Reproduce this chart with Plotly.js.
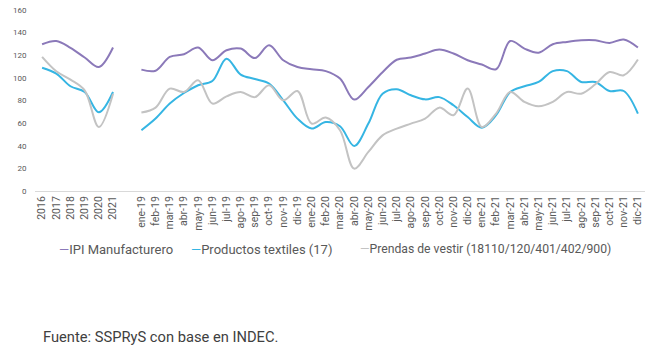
<!DOCTYPE html>
<html>
<head>
<meta charset="utf-8">
<script src="https://cdn.plot.ly/plotly-3.0.1.min.js"></script>
<style>html,body{margin:0;padding:0;background:#fff;}#chart{width:656px;height:352px;}</style>
</head>
<body>
<div id="chart"></div>
<script>
var categories = ["2016","2017","2018","2019","2020","2021"," ",
 "ene-19","feb-19","mar-19","abr-19","may-19","jun-19","jul-19","ago-19","sep-19","oct-19","nov-19","dic-19",
 "ene-20","feb-20","mar-20","abr-20","may-20","jun-20","jul-20","ago-20","sep-20","oct-20","nov-20","dic-20",
 "ene-21","feb-21","mar-21","abr-21","may-21","jun-21","jul-21","ago-21","sep-21","oct-21","nov-21","dic-21"];

var ipi = [129.7,132.6,126.5,118,109.6,126.8,null,
 107.3,106.3,118.5,120.9,126.8,115.6,124.4,125.9,117.5,128.8,115.6,109.6,
 107.6,106,99.4,80.8,92,105,116,118,121.5,125,121.5,115.6,
 111.8,107.6,132.6,125.9,122.3,129.7,131.8,133.2,133.2,130.9,133.9,126.8];

var textiles = [109,103.8,92.6,87.5,69.6,87.5,null,
 53.7,64,77.3,86.6,93.5,97.2,117,102.9,99,95,80.2,64,
 55.2,61,57.2,39.8,59.6,86,90,84.6,81,83,75.8,65.4,
 56,67,87.5,92.6,96.4,106,106,96.4,96.4,88.4,88.4,68.4];

var prendas = [118.5,105.8,98.5,89,56.6,86,null,
 69.3,73.7,90.5,87.5,97.9,77.3,83.7,87.5,83,93.5,80.2,88.4,
 59.6,64.9,53.7,19.8,34.5,49.2,55.2,59.6,64,73.7,67,90.5,
 56.6,68.4,87.5,78.7,74.9,78.7,87.5,86,94.3,105.2,102.3,116.2];

var seriesNames = ["IPI Manufacturero","Productos textiles (17)","Prendas de vestir (18110/120/401/402/900)"];
var colors = ["#8b79b9","#35b5e3","#c3c3c3"];
var yTicks = [0,20,40,60,80,100,120,140,160];

var traces = [ipi, textiles, prendas].map(function(v, i){
  return {x: categories, y: v, type: "scatter", mode: "lines", name: seriesNames[i],
    line: {color: colors[i], width: 2, shape: "spline", smoothing: 1}, connectgaps: false,
    hoverinfo: "skip"};
});

var legendX = [0.036, 0.252, 0.53];
var legendSize = [13, 13, 12.2];
var annotations = seriesNames.map(function(n, i){
  return {xref: "paper", yref: "paper", x: legendX[i], y: -0.322, xanchor: "left", yanchor: "middle",
    showarrow: false, text: "<span style='color:" + colors[i] + "'>—</span>" + n,
    font: {family: "Roboto, sans-serif", size: legendSize[i], color: "#595959"}};
});
annotations.push({xref: "paper", yref: "paper", x: 0.0105, y: -0.805, xanchor: "left", yanchor: "middle",
  showarrow: false, text: "Fuente: SSPRyS con base en INDEC.",
  font: {family: "Roboto, sans-serif", size: 14.7, color: "#404040"}});

var layout = {
  width: 656, height: 352,
  margin: {l: 35, r: 11, t: 10, b: 161},
  paper_bgcolor: "#fff", plot_bgcolor: "#fff",
  showlegend: false,
  font: {family: "Roboto, sans-serif", color: "#595959"},
  xaxis: {type: "category", categoryorder: "array", categoryarray: categories,
    tickangle: -90, tickfont: {size: 10.5, color: "#595959"}, showgrid: false,
    showline: true, linecolor: "#d9d9d9", linewidth: 1, ticks: "", zeroline: false,
    range: [-0.5, categories.length - 0.5], fixedrange: true},
  yaxis: {range: [0, 160], tickvals: yTicks, ticktext: yTicks.map(String), showgrid: false,
    zeroline: false, showline: false, ticks: "outside", ticklen: 6, tickcolor: "rgba(0,0,0,0)",
    tickfont: {size: 8, color: "#595959"}, fixedrange: true},
  annotations: annotations
};

Plotly.newPlot("chart", traces, layout, {displayModeBar: false, staticPlot: true});
</script>
</body>
</html>
